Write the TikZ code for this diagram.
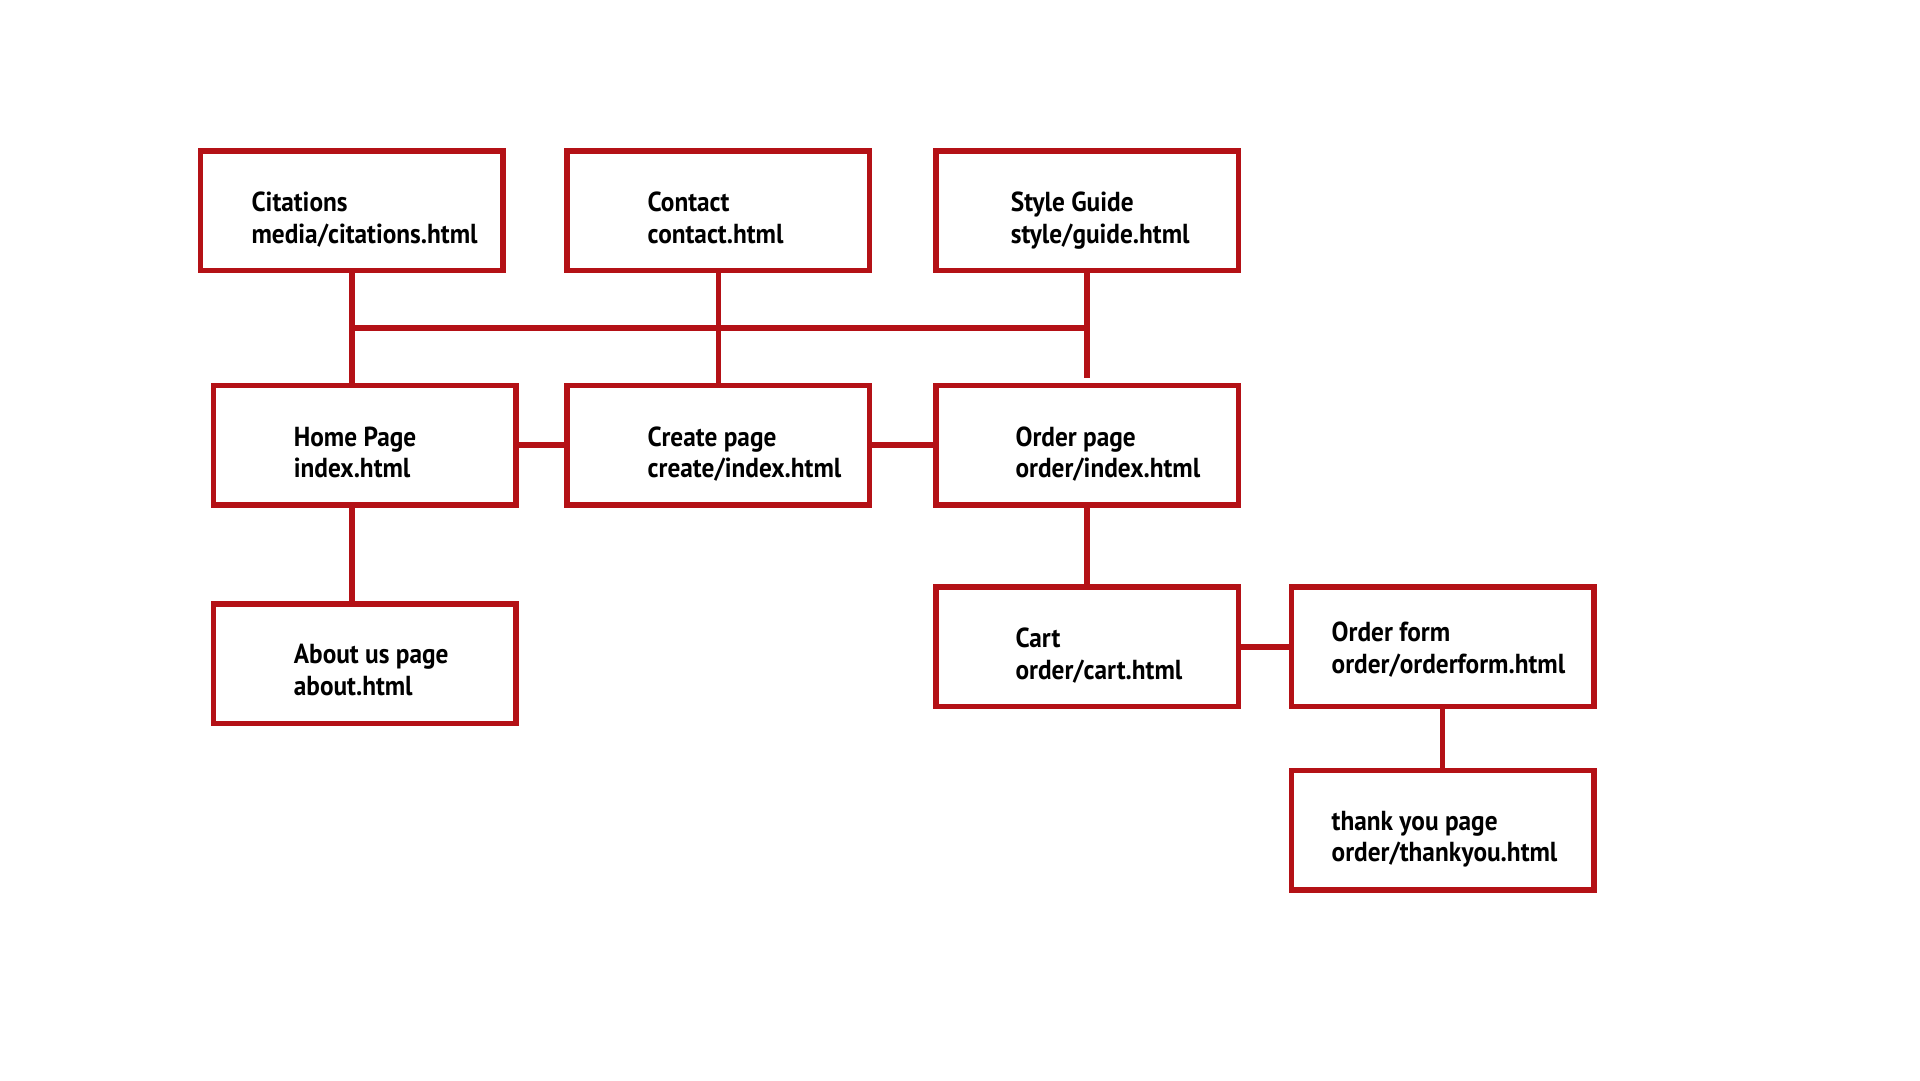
\documentclass[tikz,border=0pt]{standalone}
\usepackage{fontspec}
\newfontfamily\lblfont{PT Sans}[FakeStretch=0.92]
\usetikzlibrary{calc}
\definecolor{sitered}{RGB}{180,17,22}
\tikzset{
  pagebox/.style={draw=sitered, line width=5.5pt, minimum width=302.5pt, minimum height=119.5pt, inner sep=0pt},
  lbl/.style={anchor=base west, align=left, inner sep=0pt, text=black,
    font=\lblfont\bfseries\fontsize{27.5}{31.5}\selectfont},
  link/.style={draw=sitered, line width=5.5pt},
}
\begin{document}
\begin{tikzpicture}[x=1pt,y=-1pt]
\useasboundingbox[fill=white] (0,0) rectangle (1920,1080);

% boxes
\node[pagebox] (cit)   at (351.85,210.8) {};
\node[pagebox] (con)   at (718.3,210.8) {};
\node[pagebox] (sty)   at (1087.15,210.8) {};
\node[pagebox] (home)  at (364.5,445.2) {};
\node[pagebox] (cre)   at (718.3,445.2) {};
\node[pagebox] (ord)   at (1087.15,445.2) {};
\node[pagebox] (about) at (364.5,663.85) {};
\node[pagebox] (cart)  at (1087.15,646.85) {};
\node[pagebox] (ofm)   at (1442.7,646.85) {};
\node[pagebox] (thx)   at (1442.7,830) {};

% labels (anchor = baseline of the second line)
\node[lbl] (citT)   at ($(cit.west)+(53.5,32.5)$)   {Citations\\media/citations.html};
\node[lbl] (conT)   at ($(con.west)+(83.2,32.5)$)   {Contact\\contact.html};
\node[lbl] (styT)   at ($(sty.west)+(77.5,32.5)$)   {Style Guide\\style/guide.html};
\node[lbl] (homeT)  at ($(home.west)+(83.2,32.5)$)  {Home Page\\index.html};
\node[lbl] (creT)   at ($(cre.west)+(83.2,32.5)$)   {Create page\\create/index.html};
\node[lbl] (ordT)   at ($(ord.west)+(82.2,32.5)$)   {Order page\\order/index.html};
\node[lbl] (aboutT) at ($(about.west)+(83.2,31.5)$) {About us page\\about.html};
\node[lbl] (cartT)  at ($(cart.west)+(82.2,32.5)$)  {Cart\\order/cart.html};
\node[lbl] (ofmT)   at ($(ofm.west)+(42.8,26.5)$)   {Order form\\order/orderform.html};
\node[lbl] (thxT)   at ($(thx.west)+(42.8,31.5)$)   {thank you page\\order/thankyou.html};

% connectors
\coordinate (busL) at ($(cit.south)!0.5!(cit.south |- home.north)$);
\draw[link] (cit.south) -- (cit.south |- home.north);
\draw[link] (con.south) -- (cre.north);
\draw[link] (sty.south) -- ($(ord.north)+(0,-5)$);
\draw[link] (busL) -- (busL -| sty.south);
\draw[link] (home.east) -- (cre.west);
\draw[link] (cre.east) -- (ord.west);
\draw[link] (cit.south |- home.south) -- (cit.south |- about.north);
\draw[link] (ord.south) -- (cart.north);
\draw[link] (cart.east) -- (ofm.west);
\draw[link] (ofm.south) -- (thx.north);
\end{tikzpicture}
\end{document}
